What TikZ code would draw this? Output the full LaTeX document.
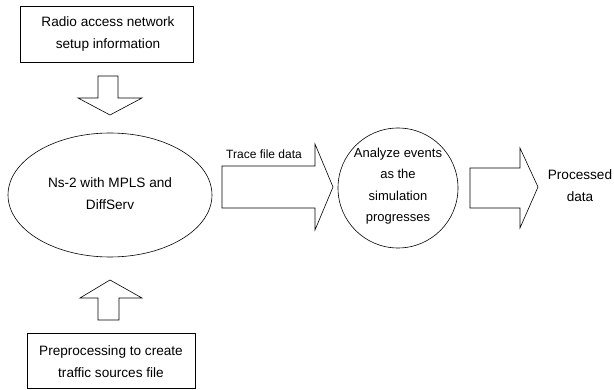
\documentclass[tikz,border=0pt]{standalone}
\usepackage{fontspec}
\setmainfont{Liberation Sans}
\begin{document}
\begin{tikzpicture}[x=1pt,y=-1pt,
  txt/.style={align=center,font=\fontsize{13.6}{22}\selectfont,inner sep=0pt},
  frame/.style={draw,line width=0.6pt},
  blk/.style={draw,line width=0.6pt,fill=white,line join=miter}]
\useasboundingbox (0,0) rectangle (614,390);
% top box
\draw[frame] (20,6) rectangle (193,62);
\node[txt] (radio) at (108,34) {Radio access network\\setup information};
% down arrow
\draw[blk] (98,76) -- (118,76) -- (118,98) -- (142,98) -- (110,115) -- (78,98) -- (98,98) -- cycle;
% ellipse
\draw[frame] (110,195) ellipse [x radius=102, y radius=62];
\node[txt] (ns) at (110,194) {Ns-2 with MPLS and\\DiffServ};
% up arrow
\draw[blk] (110,280) -- (142,298) -- (119,298) -- (119,320) -- (98,320) -- (98,298) -- (80,298) -- cycle;
% bottom box
\draw[frame] (27,333) rectangle (195,388);
\node[txt] (pre) at (111,362) {Preprocessing to create\\traffic sources file};
% trace arrow
\draw[blk] (222,166) -- (315,166) -- (315,144) -- (333,187) -- (315,230) -- (315,208) -- (222,208) -- cycle;
\node[txt,anchor=base west] (trace) at (226,159) {\fontsize{12}{14}\selectfont Trace file data};
% circle
\draw[frame] (398,188) circle [radius=60];
\node[txt,font=\fontsize{13}{21.5}\selectfont] (analyze) at (398,186) {Analyze events\\as the\\simulation\\progresses};
% right arrow
\draw[blk] (470,168) -- (520,168) -- (520,148) -- (538,187) -- (520,228) -- (520,208) -- (470,208) -- cycle;
\node[txt] (proc) at (580,186) {Processed\\data};
\end{tikzpicture}
\end{document}
